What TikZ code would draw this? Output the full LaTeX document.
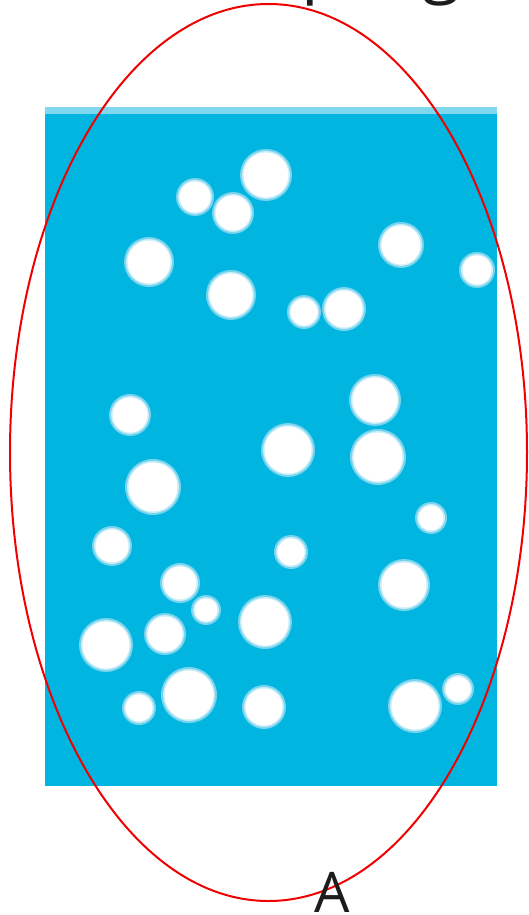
\documentclass[tikz,border=0pt]{standalone}
\usepackage{fontspec}
\setmainfont{Open Sans}
\definecolor{waterblue}{RGB}{0,181,224}
\definecolor{striplight}{RGB}{128,215,238}
\definecolor{halo}{RGB}{120,212,238}
\definecolor{halotwo}{RGB}{200,238,248}
\definecolor{inkgray}{RGB}{28,28,28}
\definecolor{ellred}{RGB}{240,0,0}
\begin{document}
\begin{tikzpicture}[x=1pt,y=-1pt,
  labeltext/.style={inner sep=0pt,text=inkgray},
  bubblehalo/.style={fill=halo},
  bubblemid/.style={fill=halotwo},
  bubblecore/.style={fill=white}]
\useasboundingbox (0,0) rectangle (528,915);
% tank
\fill[striplight] (45,107) rectangle (497,114);
\fill[waterblue] (45,114) rectangle (497,786);
\begin{scope}
\clip (45,114) rectangle (497,786);
\foreach \bx/\by/\br in {266/175/26, 195/197/19, 233/213/21, 149/262/25, 231/295/25,
  304/312/17, 344/309/22, 401/245/23, 477/270/18, 130/415/21, 288/450/27, 375/400/26,
  378/457/28, 153/487/28, 431/518/16, 112/546/20, 291/552/17, 180/583/20, 206/610/15,
  404/585/26, 265/622/27, 106/645/27, 165/634/21, 189/695/28, 139/708/17, 264/707/22,
  415/706/27, 458/689/16}{
  \fill[bubblehalo] (\bx,\by) circle[radius=\br pt];
  \fill[bubblemid] (\bx,\by) circle[radius=\br pt-2pt];
  \fill[bubblecore] (\bx,\by) circle[radius=\br pt-3.5pt];
}
\end{scope}
% ellipse
\draw[ellred,line width=2pt] (268.5,452.5) ellipse[x radius=258.5pt,y radius=448.5pt];
% labels
\node[labeltext,anchor=base west,font=\fontsize{69.5}{72}\selectfont] (title) at (160,-10.7) {Sampling};
\node[labeltext,anchor=base,font=\fontsize{56}{60}\selectfont] (lblA) at (332,912) {A};
\end{tikzpicture}
\end{document}
